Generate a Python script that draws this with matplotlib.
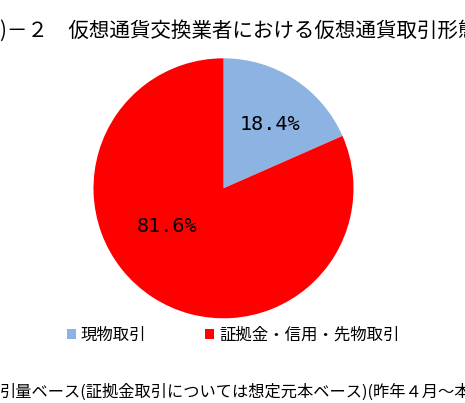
import matplotlib
matplotlib.use("Agg")
import matplotlib.pyplot as plt
from matplotlib import font_manager

plt.rcParams['font.family'] = ['Noto Sans CJK JP', 'DejaVu Sans']

categories = ["現物取引", "証拠金・信用・先物取引"]
values = [18.4, 81.6]
colors = ["#8DB3E2", "#FF0000"]
title = ")－２　仮想通貨交換業者における仮想通貨取引形態"
note = "引量ベース(証拠金取引については想定元本ベース)(昨年４月～本年３月)"

installed = {f.name for f in font_manager.fontManager.ttflist}
if 'Liberation Sans Narrow' in installed:
    lab_family, lab_size = ['Liberation Sans Narrow'], 16
else:
    lab_family, lab_size = ['DejaVu Sans Mono'], 14.5

W, H = 465, 403
fig = plt.figure(figsize=(W / 100, H / 100), dpi=100)

cx, cy, r = 223.5, 188.3, 130
ax = fig.add_axes([(cx - r) / W, (H - cy - r) / H, 2 * r / W, 2 * r / H])
wedges, _ = ax.pie(values, colors=colors, startangle=90, counterclock=False,
                   radius=1, wedgeprops=dict(linewidth=0))
ax.set_xlim(-1, 1)
ax.set_ylim(-1, 1)
ax.set_aspect('equal')
ax.axis('off')

# label positions (in pie data coordinates)
label_pos = [((269.5 - cx) / r, (cy - 124.5) / r), ((167 - cx) / r, (cy - 226.5) / r)]
for v, (lx, ly) in zip(values, label_pos):
    ax.text(lx, ly, f"{v:.1f}%", ha='center', va='center', fontsize=lab_size,
            family=lab_family, color='#000000')

fig.text(0 / W, 1 - 31 / H, title, ha='left', va='center', fontsize=14.8, color='#000000')

# legend
leg = fig.legend(handles=wedges, labels=categories, loc='center',
                 bbox_to_anchor=(233 / W, 1 - 335 / H), ncol=2, frameon=False,
                 fontsize=11.8, handlelength=0.55, handleheight=0.55,
                 handletextpad=0.3, columnspacing=3.6)

fig.text(0 / W, 1 - 392 / H, note, ha='left', va='center', fontsize=11.7, color='#000000')

fig.savefig("out.png", dpi=100)
